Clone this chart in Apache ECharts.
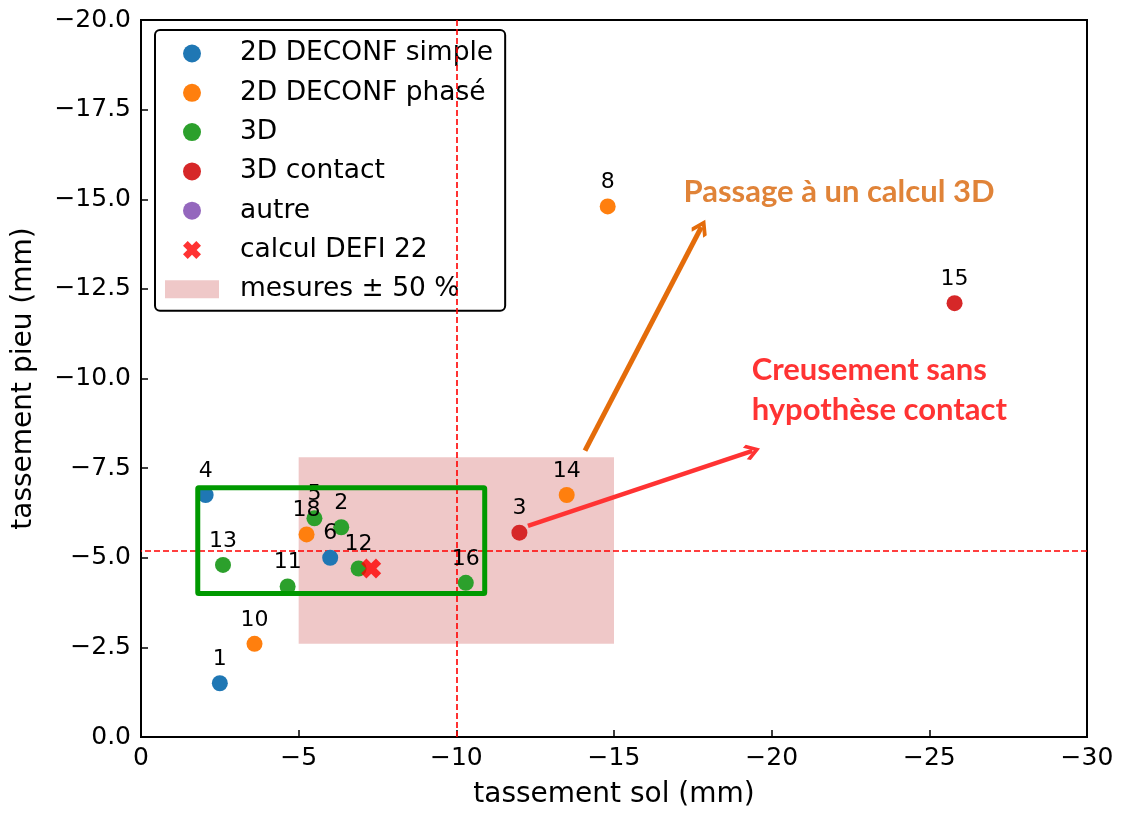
<!DOCTYPE html>
<html>
<head>
<meta charset="utf-8">
<script src="https://cdn.jsdelivr.net/npm/echarts@6/dist/echarts.min.js"></script>
<style>html,body{margin:0;padding:0;background:#fff}#c{width:1122px;height:814px}</style>
</head>
<body>
<div id="c"></div>
<script>
// ---- data ----
const simpleX = [-2.5, -2.05, -6.0];
const simpleY = [-1.5, -6.75, -5.0];
const simpleId = ['1', '4', '6'];

const phaseX = [-3.6, -5.25, -13.5, -14.8];
const phaseY = [-2.6, -5.65, -6.75, -14.8];
const phaseId = ['10', '18', '14', '8'];

const d3X = [-2.6, -4.65, -5.5, -6.35, -6.9, -10.3];
const d3Y = [-4.8, -4.2, -6.1, -5.85, -4.7, -4.3];
const d3Id = ['13', '11', '5', '2', '12', '16'];

const contactX = [-12.0, -25.8];
const contactY = [-5.7, -12.1];
const contactId = ['3', '15'];

const autreX = [];
const autreY = [];

const defiX = [-7.3];
const defiY = [-4.7];

const refSol = -10;     // vertical dashed line
const refPieu = -5.2;   // horizontal dashed line

const mesuresX = [-5, -15];
const mesuresY = [-2.6, -7.8];

const boxX = [-1.8, -10.9];
const boxY = [-4.0, -6.95];

const arrowOrange = [[-14.08, -7.99], [-17.77, -14.22]];
const arrowRed = [[-12.27, -5.89], [-19.39, -7.98]];

const annotPassage = [-17.19, -15.2];
const annotCreusement = [-19.35, -9.68];

const xTicks = [0, -5, -10, -15, -20, -25, -30];
const yTicks = [0, -2.5, -5, -7.5, -10, -12.5, -15, -17.5, -20];

// ---- build ----
function pts(xs, ys, ids) { return xs.map((x, i) => [x, ys[i], ids ? ids[i] : '']); }
const FONT = 'DejaVu Sans';
const xPath = 'path://M0,2.6 L2.6,0 L5,2.4 L7.4,0 L10,2.6 L7.6,5 L10,7.4 L7.4,10 L5,7.6 L2.6,10 L0,7.4 L2.4,5 Z';
const chevron = 'path://M10,0 L20,9 L17.6,11.6 L10,4.8 L2.4,11.6 L0,9 Z';

const numLabel = {
  show: true, position: 'top', distance: 5,
  formatter: p => p.data[2], color: '#000', fontFamily: FONT, fontSize: 22
};

function scatter(name, color, xs, ys, ids) {
  return {
    name, type: 'scatter', symbol: 'circle', symbolSize: 16, z: 5,
    itemStyle: { color, opacity: 1 }, data: pts(xs, ys, ids), label: numLabel,
    emphasis: { disabled: true }
  };
}

const chart = echarts.init(document.getElementById('c'));
chart.setOption({
  animation: false,
  backgroundColor: '#fff',
  grid: { left: 141, right: 35, top: 20, bottom: 71, show: true, borderColor: '#000', borderWidth: 2, backgroundColor: 'transparent' },
  xAxis: {
    type: 'value', min: -30, max: 0, interval: 5, inverse: true,
    name: 'tassement sol (mm)', nameLocation: 'middle', nameGap: 44,
    nameTextStyle: { fontFamily: FONT, fontSize: 28, color: '#000' },
    axisLine: { show: true, onZero: false, lineStyle: { color: '#000', width: 2 } },
    axisTick: { show: true, inside: true, length: 7, lineStyle: { color: '#000', width: 1.5 } },
    axisLabel: { margin: 9, fontFamily: FONT, fontSize: 25, color: '#000',
      formatter: v => v === 0 ? '0' : '\u2212' + Math.abs(v) },
    splitLine: { show: false }
  },
  yAxis: {
    type: 'value', min: -20, max: 0, interval: 2.5, inverse: true,
    name: 'tassement pieu (mm)', nameLocation: 'middle', nameGap: 103, nameRotate: 90,
    nameTextStyle: { fontFamily: FONT, fontSize: 28, color: '#000' },
    axisLine: { show: true, onZero: false, lineStyle: { color: '#000', width: 2 } },
    axisTick: { show: true, inside: true, length: 7, lineStyle: { color: '#000', width: 1.5 } },
    axisLabel: { margin: 10, fontFamily: FONT, fontSize: 25, color: '#000',
      formatter: v => v === 0 ? '0.0' : '\u2212' + Math.abs(v).toFixed(1) },
    splitLine: { show: false }
  },
  legend: {
    left: 155, top: 30, orient: 'vertical', selectedMode: false,
    padding: [10, 12, 8, 10], itemGap: 12.3, itemWidth: 54, itemHeight: 18,
    borderColor: '#000', borderWidth: 2, borderRadius: 5, backgroundColor: '#fff',
    textStyle: { fontFamily: FONT, fontSize: 26.5, color: '#000', lineHeight: 26, padding: [0, 0, 0, 16] },
    data: [
      { name: '2D DECONF simple', icon: 'circle' },
      { name: '2D DECONF phasé', icon: 'circle' },
      { name: '3D', icon: 'circle' },
      { name: '3D contact', icon: 'circle' },
      { name: 'autre', icon: 'circle' },
      { name: 'calcul DEFI 22', icon: xPath },
      { name: 'mesures ± 50 %', icon: 'rect' }
    ]
  },
  series: [
    {
      name: 'mesures ± 50 %', type: 'custom', z: 1, silent: true,
      itemStyle: { color: '#efc8c8' },
      encode: { x: [0, 2], y: [1, 3] },
      data: [[mesuresX[0], mesuresY[0], mesuresX[1], mesuresY[1]]],
      renderItem: (params, api) => {
        const a = api.coord([api.value(0), api.value(1)]);
        const b = api.coord([api.value(2), api.value(3)]);
        return { type: 'rect', shape: { x: Math.min(a[0], b[0]), y: Math.min(a[1], b[1]), width: Math.abs(b[0] - a[0]), height: Math.abs(b[1] - a[1]) }, style: { fill: '#efc8c8' } };
      },
      markLine: {
        silent: true, symbol: 'none', label: { show: false },
        lineStyle: { color: '#ff0000', type: [6, 3], width: 1.6 },
        data: [{ xAxis: refSol }, { yAxis: refPieu }]
      }
    },
    scatter('2D DECONF simple', '#1f77b4', simpleX, simpleY, simpleId),
    scatter('2D DECONF phasé', '#ff7f0e', phaseX, phaseY, phaseId),
    scatter('3D', '#2ca02c', d3X, d3Y, d3Id),
    scatter('3D contact', '#d62728', contactX, contactY, contactId),
    scatter('autre', '#9467bd', autreX, autreY, []),
    {
      name: 'calcul DEFI 22', type: 'scatter', symbol: xPath, symbolSize: 20, z: 6,
      itemStyle: { color: '#ff0000' }, data: pts(defiX, defiY), emphasis: { disabled: true }
    },
    {
      name: 'boite', type: 'custom', z: 7, silent: true,
      encode: { x: [0, 2], y: [1, 3] },
      data: [[boxX[0], boxY[0], boxX[1], boxY[1]]],
      renderItem: (params, api) => {
        const a = api.coord([api.value(0), api.value(1)]);
        const b = api.coord([api.value(2), api.value(3)]);
        return { type: 'rect', shape: { x: Math.min(a[0], b[0]), y: Math.min(a[1], b[1]), width: Math.abs(b[0] - a[0]), height: Math.abs(b[1] - a[1]), r: 1 }, style: { fill: 'none', stroke: '#009900', lineWidth: 5 } };
      }
    },
    {
      name: 'flecheOrange', type: 'lines', coordinateSystem: 'cartesian2d', z: 8, silent: true,
      symbol: ['none', chevron], symbolSize: [28, 17],
      lineStyle: { color: '#e46c0a', width: 5, opacity: 1 },
      data: [{ coords: arrowOrange }]
    },
    {
      name: 'flecheRouge', type: 'lines', coordinateSystem: 'cartesian2d', z: 8, silent: true,
      symbol: ['none', chevron], symbolSize: [27, 16],
      lineStyle: { color: '#ff3333', width: 4.5, opacity: 1 },
      data: [{ coords: arrowRed }]
    },
    {
      name: 'annotations', type: 'scatter', z: 9, silent: true, symbolSize: 1,
      itemStyle: { color: 'rgba(0,0,0,0)' },
      data: [
        { value: annotPassage, label: { formatter: 'Passage à un calcul 3D', color: '#d86406' } },
        { value: annotCreusement, label: { formatter: 'Creusement sans\nhypothèse contact', color: '#ff0000' } }
      ],
      label: { show: true, position: 'right', distance: 0, fontFamily: 'Lato', fontWeight: 'bold', fontSize: 31, lineHeight: 40, align: 'left' }
    }
  ]
});
</script>
</body>
</html>
